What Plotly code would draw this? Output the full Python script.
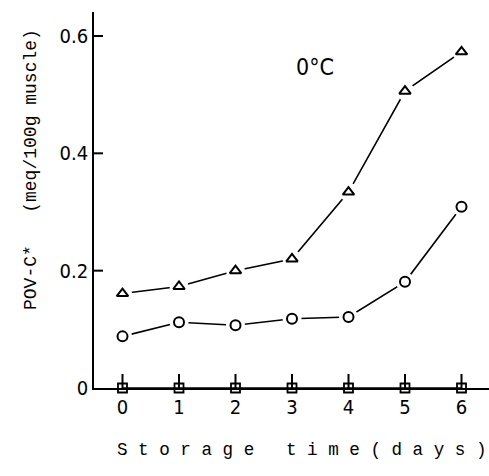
import plotly.graph_objects as go

days = [0, 1, 2, 3, 4, 5, 6]
triangle_vals = [0.161, 0.173, 0.200, 0.220, 0.334, 0.506, 0.573]
circle_vals = [0.088, 0.112, 0.107, 0.118, 0.121, 0.181, 0.309]
square_vals = [0, 0, 0, 0, 0, 0, 0]
y_tick_vals = [0, 0.2, 0.4, 0.6]
y_tick_text = ["0", "0.2", "0.4", "0.6"]
x_tick_text = ["0", "1", "2", "3", "4", "5", "6"]

W, H = 489, 476
L, R, T, B = 94, 0, 12, 88
pw = W - L - R
ph = H - T - B
px_per_day = 56.5
px_per_unit = 586.7

x_lo = -(122.5 - L) / px_per_day
x_hi = (W - 122.5) / px_per_day
y_hi = (H - B - T) / px_per_unit

tick_font = dict(family="DejaVu Sans Condensed, Liberation Sans Narrow, sans-serif",
                 size=20, color="black")

fig = go.Figure()

# inward tick marks, built from the tick arrays in data units
xt_len = 14 / px_per_unit
yt_len = 9 / px_per_day
tx, ty = [], []
for d in days:
    tx += [d, d, None]
    ty += [0, xt_len, None]
for v in y_tick_vals[1:]:
    tx += [x_lo, x_lo + yt_len, None]
    ty += [v, v, None]
fig.add_trace(go.Scatter(x=tx, y=ty, mode="lines", cliponaxis=False,
                         line=dict(color="black", width=2),
                         hoverinfo="skip", showlegend=False))

def add_series(vals, symbol, gap):
    fig.add_trace(go.Scatter(x=days, y=vals, mode="lines", cliponaxis=False,
                             line=dict(color="black", width=1.6),
                             hoverinfo="skip", showlegend=False))
    if gap:
        fig.add_trace(go.Scatter(x=days, y=vals, mode="markers", cliponaxis=False,
                                 marker=dict(symbol="circle", size=19, color="white",
                                             line=dict(width=0)),
                                 hoverinfo="skip", showlegend=False))
        fig.add_trace(go.Scatter(x=days, y=vals, mode="markers", cliponaxis=False,
                                 marker=dict(symbol=symbol, size=10, color="white",
                                             line=dict(color="black", width=2)),
                                 showlegend=False))
    else:
        fig.add_trace(go.Scatter(x=days, y=vals, mode="markers", cliponaxis=False,
                                 marker=dict(symbol=symbol, size=9, color="black",
                                             line=dict(color="black", width=1.8)),
                                 showlegend=False))

add_series(triangle_vals, "triangle-up", True)
add_series(circle_vals, "circle", True)
add_series(square_vals, "square-open", False)

fig.add_annotation(text="0°C", xref="paper", yref="paper",
                   x=(315 - L) / pw, y=(H - B - 67) / ph,
                   xanchor="center", yanchor="middle", showarrow=False,
                   font=dict(family="DejaVu Sans Condensed, sans-serif",
                             size=23, color="black"))

fig.add_annotation(text="POV-C*   (meq/100g muscle)",
                   xref="paper", yref="paper",
                   x=(31 - L) / pw, y=(H - B - 170) / ph, textangle=-90,
                   xanchor="center", yanchor="middle", showarrow=False,
                   font=dict(family="Liberation Mono, DejaVu Sans Mono, monospace",
                             size=18, color="black"))

fig.add_annotation(text="S t o r a g e   t i m e ( d a y s )",
                   xref="paper", yref="paper",
                   x=(302 - L) / pw, y=(H - B - 450) / ph,
                   xanchor="center", yanchor="middle", showarrow=False,
                   font=dict(family="Liberation Mono, DejaVu Sans Mono, monospace",
                             size=17.6, color="black"))

fig.update_layout(
    width=W, height=H,
    margin=dict(l=L, r=R, t=T, b=B, pad=0),
    paper_bgcolor="white", plot_bgcolor="white",
    xaxis=dict(range=[x_lo, x_hi], tickmode="array", tickvals=days, ticktext=x_tick_text,
               ticks="", showline=True, linecolor="black", linewidth=1.8,
               showgrid=False, zeroline=False, tickfont=tick_font),
    yaxis=dict(range=[0, y_hi], tickmode="array", tickvals=y_tick_vals, ticktext=y_tick_text,
               ticks="", ticksuffix="\u2009", showline=True, linecolor="black", linewidth=1.8,
               showgrid=False, zeroline=False, tickfont=tick_font),
)

fig.write_html("out.html", config={"displayModeBar": False},
               post_script="document.body.style.margin='0';document.body.style.padding='0';")
